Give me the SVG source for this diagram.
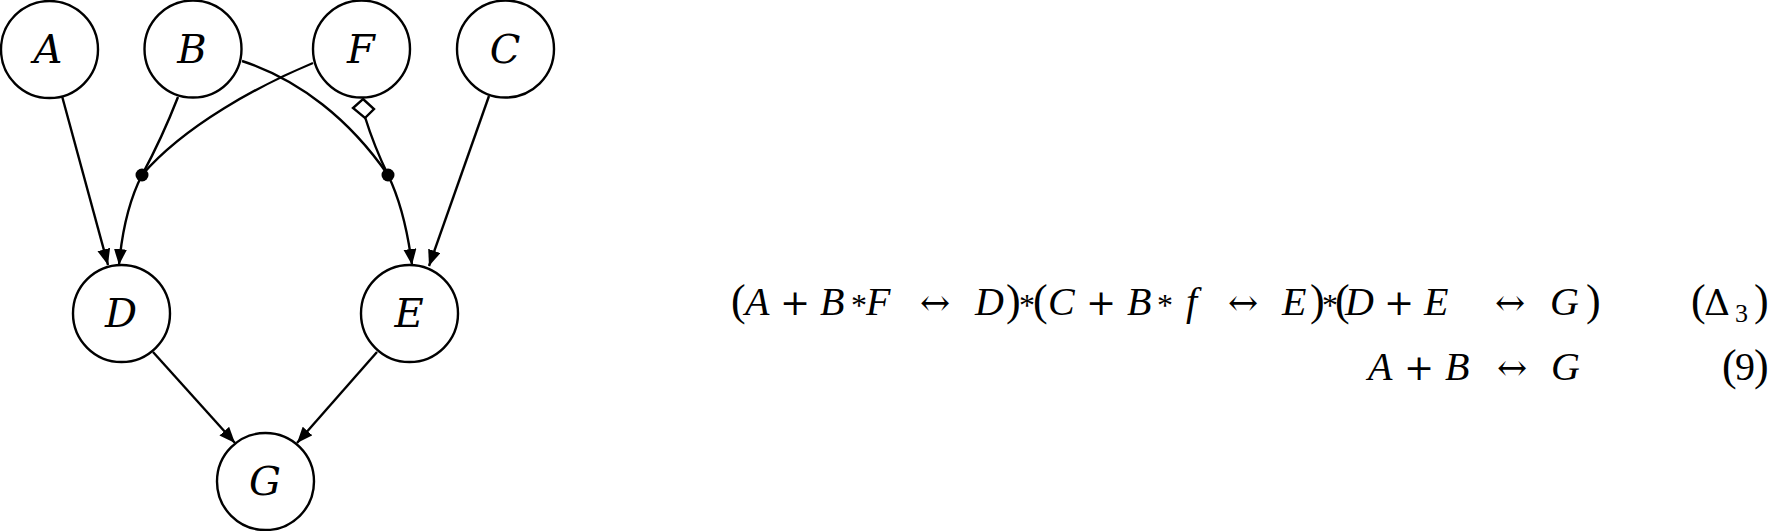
<svg xmlns="http://www.w3.org/2000/svg" width="1768" height="531" viewBox="0 0 1768 531">
<style>
.node circle{fill:#fff;stroke:#000;stroke-width:2.4}
.node text{font-family:"DejaVu Serif",serif;font-style:italic;font-size:40px;text-anchor:middle;fill:#000}
.edge{fill:none;stroke:#000;stroke-width:2.4}
.eq{font-family:"Liberation Serif",serif;font-size:40px;fill:#000}
.v{font-style:italic}
.o{font-family:"DejaVu Serif",serif;font-size:36px}
.p{font-size:44px}
.s{font-size:32px}
</style>
<defs>
<marker id="arr" markerUnits="userSpaceOnUse" markerWidth="18" markerHeight="14" refX="16" refY="6.5" orient="auto" viewBox="0 0 18 14">
<path d="M0,0 L16,6.5 L0,13 z" fill="#000"/>
</marker>
</defs>
<rect width="1768" height="531" fill="#fff"/>
<g id="connectors">
<path class="edge" d="M62,96 L108,265" marker-end="url(#arr)"/>
<path class="edge" d="M178,97 Q162,138 142,175"/>
<path class="edge" d="M313,63 C260,85 185,125 142,175"/>
<path class="edge" d="M142,175 Q124,210 119,265" marker-end="url(#arr)"/>
<path class="edge" d="M242,61 C300,80 350,120 388,175"/>
<path class="edge" d="M365,117 Q374,146 388,175"/>
<path d="M363,99 L374,109 L365,118 L353,108 Z" fill="#fff" stroke="#000" stroke-width="2.4"/>
<path class="edge" d="M388,175 Q405,210 412,265" marker-end="url(#arr)"/>
<path class="edge" d="M489,96 L429,266" marker-end="url(#arr)"/>
<path class="edge" d="M153,352 L235,443" marker-end="url(#arr)"/>
<path class="edge" d="M377,352 L297,443" marker-end="url(#arr)"/>
<circle cx="142" cy="175" r="6.5" fill="#000"/>
<circle cx="388" cy="175" r="6.5" fill="#000"/>
</g>
<g id="A" class="node"><circle cx="49.5" cy="49.5" r="48.5"/><text x="48" y="63">A</text></g>
<g id="B" class="node"><circle cx="193" cy="49" r="48.5"/><text x="192" y="63">B</text></g>
<g id="F" class="node"><circle cx="361.5" cy="49" r="48.5"/><text x="361" y="63">F</text></g>
<g id="C" class="node"><circle cx="505.5" cy="49" r="48.5"/><text x="505" y="63">C</text></g>
<g id="D" class="node"><circle cx="121.5" cy="313.5" r="48.5"/><text x="121" y="327">D</text></g>
<g id="E" class="node"><circle cx="409.5" cy="313.5" r="48.5"/><text x="409" y="327">E</text></g>
<g id="G" class="node"><circle cx="265.5" cy="481.5" r="48.5"/><text x="265" y="495">G</text></g>
<g id="equations">
<text class="eq" y="315"><tspan class="p" x="731">(</tspan><tspan class="v" x="745">A</tspan><tspan class="o" x="780">+</tspan><tspan class="v" x="820">B</tspan><tspan class="s" x="851" y="316">*</tspan><tspan class="v" x="866" y="315">F</tspan><tspan class="o" x="920">↔</tspan><tspan class="v" x="975">D</tspan><tspan class="p" x="1006">)</tspan><tspan class="s" x="1019" y="316">*</tspan><tspan class="p" x="1033" y="315">(</tspan><tspan class="v" x="1048">C</tspan><tspan class="o" x="1086">+</tspan><tspan class="v" x="1127">B</tspan><tspan class="s" x="1157" y="316">*</tspan><tspan class="v" x="1186" y="315">f</tspan><tspan class="o" x="1228">↔</tspan><tspan class="v" x="1282">E</tspan><tspan class="p" x="1310">)</tspan><tspan class="s" x="1322" y="316">*</tspan><tspan class="p" x="1335" y="315">(</tspan><tspan class="v" x="1345">D</tspan><tspan class="o" x="1384">+</tspan><tspan class="v" x="1424">E</tspan><tspan class="o" x="1495">↔</tspan><tspan class="v" x="1550">G</tspan><tspan class="p" x="1586">)</tspan><tspan class="p" x="1691">(</tspan><tspan class="o" x="1704">Δ</tspan><tspan x="1735" y="322" font-size="26">3</tspan><tspan class="p" x="1754" y="315">)</tspan></text>
<text class="eq" y="380"><tspan class="v" x="1368">A</tspan><tspan class="o" x="1404">+</tspan><tspan class="v" x="1445">B</tspan><tspan class="o" x="1497">↔</tspan><tspan class="v" x="1551">G</tspan><tspan class="p" x="1722">(</tspan><tspan x="1735">9</tspan><tspan class="p" x="1754">)</tspan></text>
</g>
</svg>
